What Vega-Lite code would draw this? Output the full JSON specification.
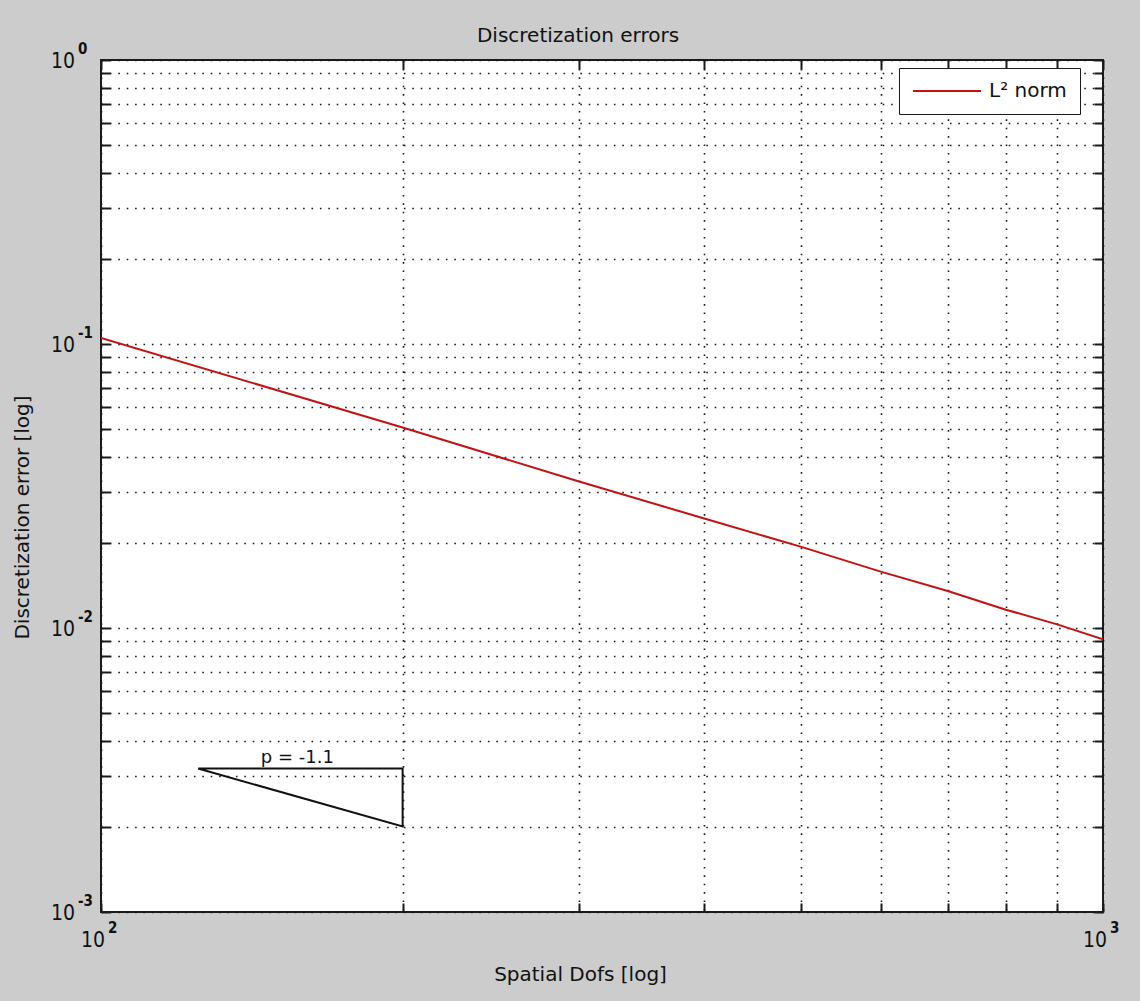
{
  "$schema": "https://vega.github.io/schema/vega-lite/v6.json",
  "autosize": {"type": "none"},
  "padding": {"left": 101, "top": 60, "right": 37, "bottom": 89},
  "width": 1002,
  "height": 852,
  "background": "#cccccc",
  "config": {
    "view": {"fill": "white", "stroke": "#1a1a1a", "strokeWidth": 2},
    "font": "DejaVu Sans"
  },
  "title": {
    "text": "Discretization errors",
    "font": "DejaVu Sans",
    "fontSize": 20,
    "fontWeight": "normal",
    "color": "#111111",
    "anchor": "middle",
    "offset": -4,
    "dx": -24
  },
  "datasets": {
    "errors": [
      {"dofs": 100, "err": 0.105, "series": "L² norm"},
      {"dofs": 200, "err": 0.0508, "series": "L² norm"},
      {"dofs": 300, "err": 0.0328, "series": "L² norm"},
      {"dofs": 400, "err": 0.0243, "series": "L² norm"},
      {"dofs": 500, "err": 0.0193, "series": "L² norm"},
      {"dofs": 600, "err": 0.0158, "series": "L² norm"},
      {"dofs": 700, "err": 0.0135, "series": "L² norm"},
      {"dofs": 800, "err": 0.0116, "series": "L² norm"},
      {"dofs": 900, "err": 0.0103, "series": "L² norm"},
      {"dofs": 1000, "err": 0.00913, "series": "L² norm"}
    ],
    "slope": [
      {"dofs": 125, "err": 0.0032, "step": 0},
      {"dofs": 200, "err": 0.0032, "step": 1},
      {"dofs": 200, "err": 0.002, "step": 2},
      {"dofs": 125, "err": 0.0032, "step": 3}
    ],
    "slopeLabel": [
      {"dofs": 157, "err": 0.0032, "label": "p = -1.1"}
    ],
    "xticks": [
      {"dofs": 100, "err": 0.001, "exp": "2"},
      {"dofs": 1000, "err": 0.001, "exp": "3"}
    ],
    "yticks": [
      {"dofs": 100, "err": 1, "exp": "0"},
      {"dofs": 100, "err": 0.1, "exp": "-1"},
      {"dofs": 100, "err": 0.01, "exp": "-2"},
      {"dofs": 100, "err": 0.001, "exp": "-3"}
    ]
  },
  "resolve": {"axis": {"x": "independent", "y": "independent"}},
  "layer": [
    {
      "data": {"name": "errors"},
      "mark": {"type": "line", "color": "#c41212", "strokeWidth": 2, "clip": true},
      "encoding": {
        "x": {
          "field": "dofs", "type": "quantitative",
          "scale": {"type": "log", "domain": [100, 1000], "nice": false},
          "axis": {
            "orient": "bottom",
            "values": [100, 200, 300, 400, 500, 600, 700, 800, 900, 1000],
            "grid": true, "gridDash": [1.6, 6.8], "gridColor": "#1a1a1a", "gridWidth": 1.6, "gridOpacity": 1,
            "ticks": true, "tickSize": -9, "tickColor": "#1a1a1a", "tickWidth": 2,
            "labels": false, "domain": false,
            "title": "Spatial Dofs [log]",
            "titleFont": "DejaVu Sans", "titleFontSize": 20, "titleFontWeight": "normal", "titleColor": "#111111",
            "titleX": 479, "titleY": 68, "titleAlign": "center", "titleBaseline": "alphabetic"
          }
        },
        "y": {
          "field": "err", "type": "quantitative",
          "scale": {"type": "log", "domain": [0.001, 1], "nice": false},
          "axis": {
            "orient": "left",
            "values": [0.001, 0.002, 0.003, 0.004, 0.005, 0.006, 0.007, 0.008, 0.009,
                       0.01, 0.02, 0.03, 0.04, 0.05, 0.06, 0.07, 0.08, 0.09,
                       0.1, 0.2, 0.3, 0.4, 0.5, 0.6, 0.7, 0.8, 0.9, 1],
            "grid": true, "gridDash": [1.6, 6.8], "gridColor": "#1a1a1a", "gridWidth": 1.6, "gridOpacity": 1,
            "ticks": true, "tickSize": -9, "tickColor": "#1a1a1a", "tickWidth": 2,
            "labels": false, "domain": false,
            "title": "Discretization error [log]",
            "titleFont": "DejaVu Sans", "titleFontSize": 20, "titleFontWeight": "normal", "titleColor": "#111111",
            "titleAngle": -90, "titleX": -73, "titleY": 457, "titleAlign": "center", "titleBaseline": "alphabetic"
          }
        },
        "color": {
          "field": "series", "type": "nominal",
          "scale": {"range": ["#c41212"]},
          "legend": {
            "title": null,
            "orient": "none",
            "legendX": 798,
            "legendY": 8,
            "fillColor": "white",
            "strokeColor": "#1a1a1a",
            "padding": 13,
            "clipHeight": 20,
            "symbolType": "stroke",
            "symbolSize": 4624,
            "symbolStrokeWidth": 2,
            "labelOffset": 7,
            "labelFont": "DejaVu Sans",
            "labelFontSize": 20,
            "labelColor": "#111111"
          }
        }
      }
    },
    {
      "data": {"name": "slope"},
      "mark": {"type": "line", "color": "#111111", "strokeWidth": 2},
      "encoding": {
        "x": {
          "field": "dofs", "type": "quantitative",
          "scale": {"type": "log", "domain": [100, 1000], "nice": false},
          "axis": {
            "orient": "top",
            "values": [100, 200, 300, 400, 500, 600, 700, 800, 900, 1000],
            "grid": false, "ticks": true, "tickSize": -9, "tickColor": "#1a1a1a", "tickWidth": 2,
            "labels": false, "domain": false, "title": null
          }
        },
        "y": {
          "field": "err", "type": "quantitative",
          "scale": {"type": "log", "domain": [0.001, 1], "nice": false},
          "axis": {
            "orient": "right",
            "values": [0.001, 0.002, 0.003, 0.004, 0.005, 0.006, 0.007, 0.008, 0.009,
                       0.01, 0.02, 0.03, 0.04, 0.05, 0.06, 0.07, 0.08, 0.09,
                       0.1, 0.2, 0.3, 0.4, 0.5, 0.6, 0.7, 0.8, 0.9, 1],
            "grid": false, "ticks": true, "tickSize": -9, "tickColor": "#1a1a1a", "tickWidth": 2,
            "labels": false, "domain": false, "title": null
          }
        },
        "order": {"field": "step", "type": "quantitative"}
      }
    },
    {
      "data": {"name": "slopeLabel"},
      "mark": {"type": "text", "font": "DejaVu Sans", "fontSize": 18, "color": "#111111", "align": "center", "baseline": "alphabetic", "dy": -6},
      "encoding": {
        "x": {"field": "dofs", "type": "quantitative", "scale": {"type": "log", "domain": [100, 1000], "nice": false}, "axis": null},
        "y": {"field": "err", "type": "quantitative", "scale": {"type": "log", "domain": [0.001, 1], "nice": false}, "axis": null},
        "text": {"field": "label"}
      }
    },
    {
      "data": {"name": "xticks"},
      "mark": {"type": "text", "font": "Liberation Sans Narrow, DejaVu Sans Condensed, sans-serif", "fontSize": 21, "color": "#111111", "align": "right", "baseline": "alphabetic", "dx": 4, "dy": 35},
      "encoding": {
        "x": {"field": "dofs", "type": "quantitative", "scale": {"type": "log", "domain": [100, 1000], "nice": false}, "axis": null},
        "y": {"field": "err", "type": "quantitative", "scale": {"type": "log", "domain": [0.001, 1], "nice": false}, "axis": null},
        "text": {"value": "10"}
      }
    },
    {
      "data": {"name": "xticks"},
      "mark": {"type": "text", "font": "Liberation Sans Narrow, DejaVu Sans Condensed, sans-serif", "fontSize": 15, "fontWeight": "bold", "color": "#111111", "align": "left", "baseline": "alphabetic", "dx": 7, "dy": 21},
      "encoding": {
        "x": {"field": "dofs", "type": "quantitative", "scale": {"type": "log", "domain": [100, 1000], "nice": false}, "axis": null},
        "y": {"field": "err", "type": "quantitative", "scale": {"type": "log", "domain": [0.001, 1], "nice": false}, "axis": null},
        "text": {"field": "exp"}
      }
    },
    {
      "data": {"name": "yticks"},
      "mark": {"type": "text", "font": "Liberation Sans Narrow, DejaVu Sans Condensed, sans-serif", "fontSize": 21, "color": "#111111", "align": "right", "baseline": "alphabetic", "dx": -26, "dy": 8},
      "encoding": {
        "x": {"field": "dofs", "type": "quantitative", "scale": {"type": "log", "domain": [100, 1000], "nice": false}, "axis": null},
        "y": {"field": "err", "type": "quantitative", "scale": {"type": "log", "domain": [0.001, 1], "nice": false}, "axis": null},
        "text": {"value": "10"}
      }
    },
    {
      "data": {"name": "yticks"},
      "mark": {"type": "text", "font": "Liberation Sans Narrow, DejaVu Sans Condensed, sans-serif", "fontSize": 15, "fontWeight": "bold", "color": "#111111", "align": "left", "baseline": "alphabetic", "dx": -23, "dy": -6},
      "encoding": {
        "x": {"field": "dofs", "type": "quantitative", "scale": {"type": "log", "domain": [100, 1000], "nice": false}, "axis": null},
        "y": {"field": "err", "type": "quantitative", "scale": {"type": "log", "domain": [0.001, 1], "nice": false}, "axis": null},
        "text": {"field": "exp"}
      }
    }
  ]
}
